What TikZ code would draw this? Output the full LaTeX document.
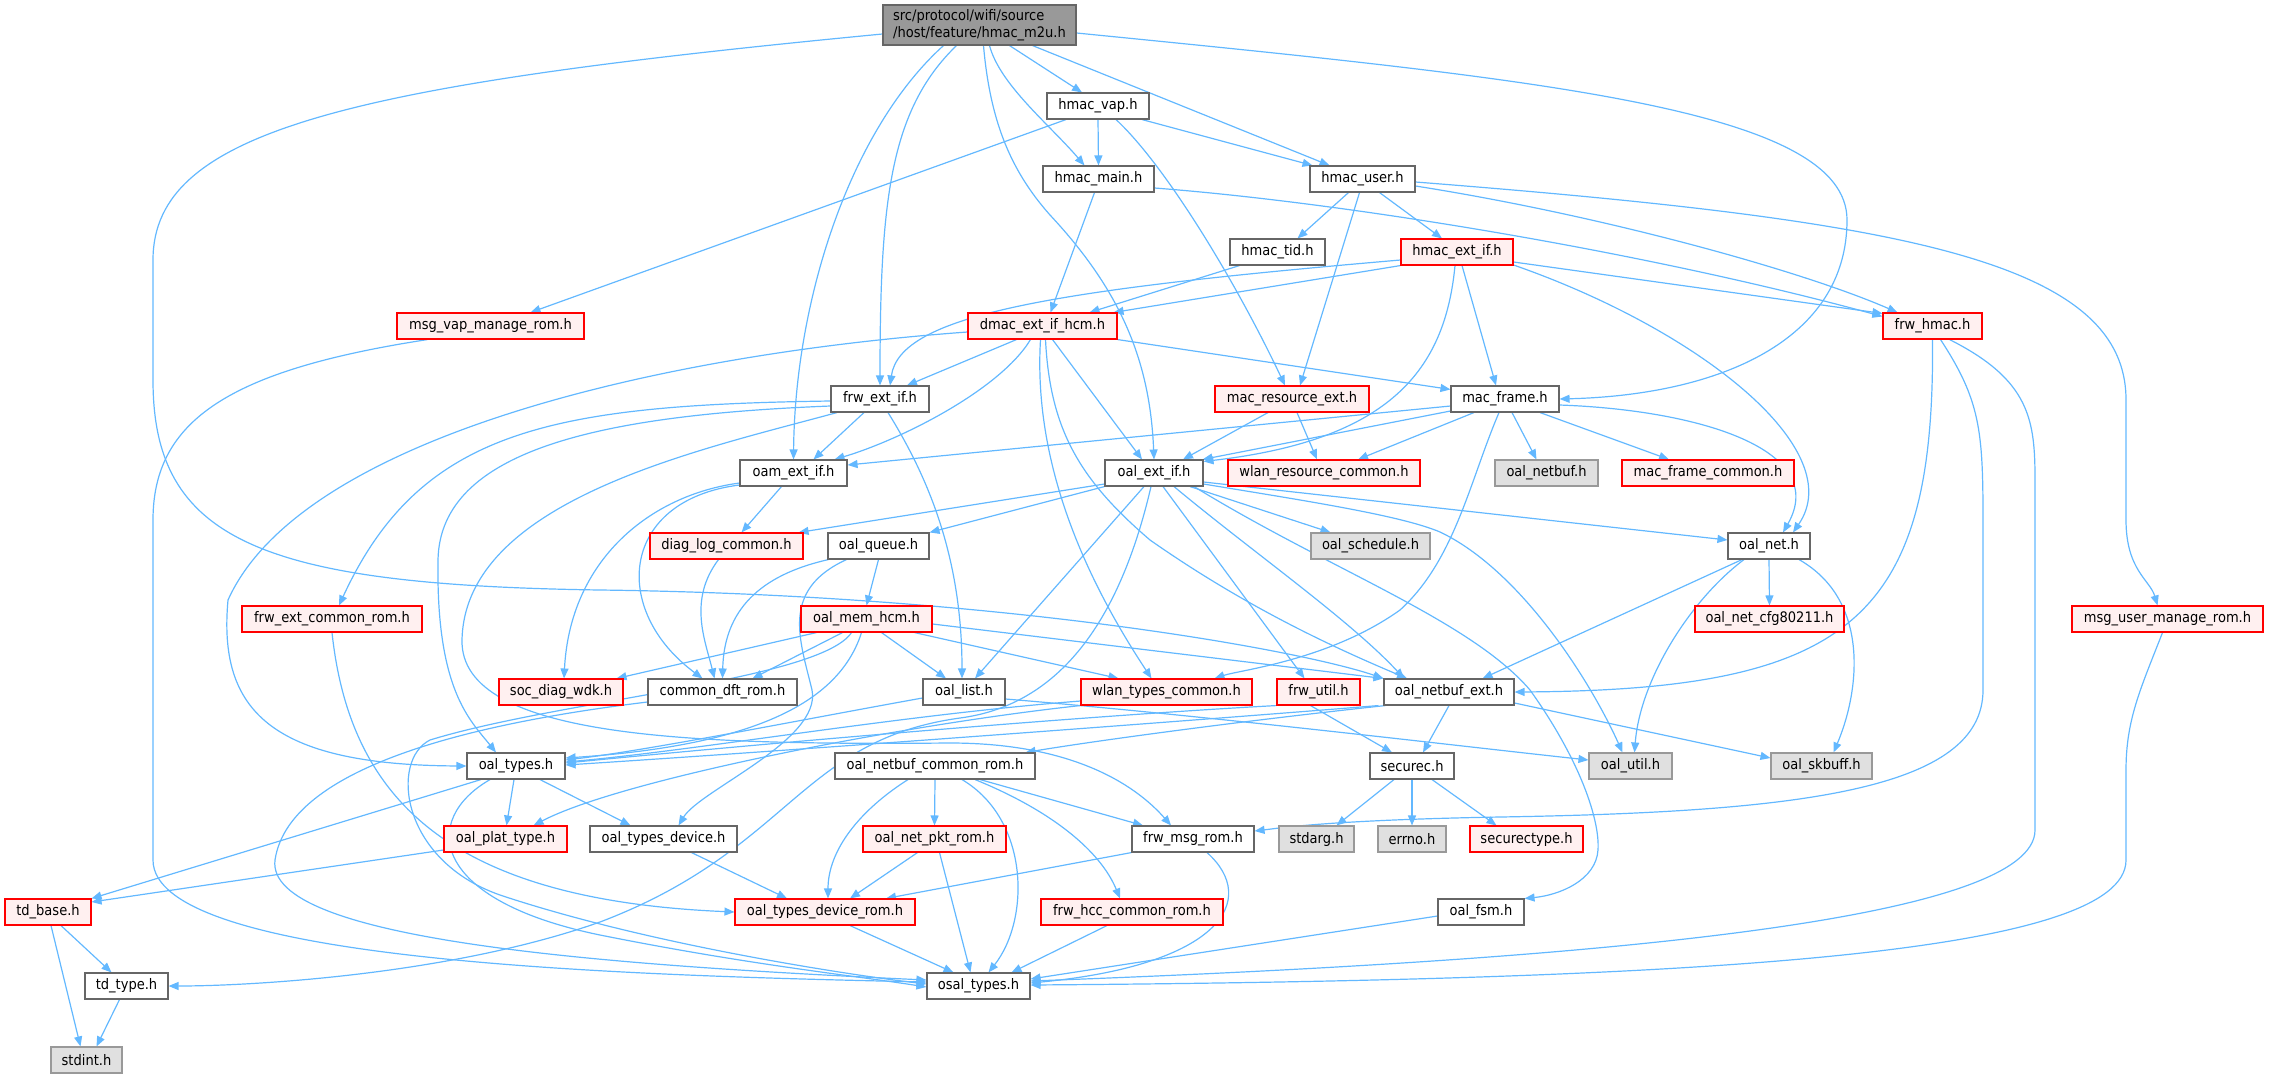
\documentclass[tikz,border=0pt]{standalone}
\usepackage{fontspec}
\setmainfont{DejaVu Sans Condensed}
\usetikzlibrary{arrows.meta}
\definecolor{edgeblue}{HTML}{63B8FF}
\definecolor{bordergray}{HTML}{666666}
\definecolor{mainfill}{HTML}{999999}
\definecolor{redfill}{HTML}{FFF0F0}
\definecolor{redborder}{HTML}{FF0000}
\definecolor{grayfill}{HTML}{E0E0E0}
\definecolor{grayborder}{HTML}{999999}
\newcommand{\nodefont}{\fontsize{14.5pt}{17pt}\selectfont}
\newcommand{\nd}[6]{\node[#5, minimum width=#4pt] (#1) at (#2,#3) {#6};}
\pgfdeclarelayer{bg}
\pgfsetlayers{bg,main}
\tikzset{
  nwhite/.style={draw=bordergray, fill=white, line width=1.1pt, minimum height=26pt, inner sep=0pt, font=\nodefont, text=black},
  nred/.style={nwhite, draw=redborder, fill=redfill},
  ngray/.style={nwhite, draw=grayborder, fill=grayfill},
  nmain/.style={nwhite, fill=mainfill, minimum height=40pt, align=left},
  dep/.style={draw=edgeblue, line width=1.2pt, -{Triangle[length=10pt,width=8pt]}, fill=none}
}
\begin{document}
\begin{tikzpicture}[x=1pt,y=-1pt]
\useasboundingbox (0,0) rectangle (2269,1077);
\nd{main}{979.5}{25}{193}{nmain}{src/protocol/wifi/source\\/host/feature/hmac\_m2u.h}
\nd{vap}{1098}{106}{102}{nwhite}{hmac\_vap.h}
\nd{hmain}{1098.5}{179}{111}{nwhite}{hmac\_main.h}
\nd{huser}{1362.5}{179}{105}{nwhite}{hmac\_user.h}
\nd{htid}{1277.5}{252}{95}{nwhite}{hmac\_tid.h}
\nd{hext}{1457}{252}{112}{nred}{hmac\_ext\_if.h}
\nd{msgvap}{490.5}{326}{187}{nred}{msg\_vap\_manage\_rom.h}
\nd{dmac}{1042.5}{326}{149}{nred}{dmac\_ext\_if\_hcm.h}
\nd{frwhmac}{1932.5}{326}{99}{nred}{frw\_hmac.h}
\nd{frwext}{880}{399}{98}{nwhite}{frw\_ext\_if.h}
\nd{macres}{1292}{399}{154}{nred}{mac\_resource\_ext.h}
\nd{macframe}{1505}{399}{108}{nwhite}{mac\_frame.h}
\nd{oam}{793.5}{473}{107}{nwhite}{oam\_ext\_if.h}
\nd{oalext}{1154}{473}{98}{nwhite}{oal\_ext\_if.h}
\nd{wlanres}{1324}{473}{192}{nred}{wlan\_resource\_common.h}
\nd{oalnetbuf}{1546.5}{473}{103}{ngray}{oal\_netbuf.h}
\nd{macfc}{1708}{473}{172}{nred}{mac\_frame\_common.h}
\nd{diag}{726.5}{546}{153}{nred}{diag\_log\_common.h}
\nd{oalqueue}{878.5}{546}{101}{nwhite}{oal\_queue.h}
\nd{oalsched}{1370.5}{546}{119}{ngray}{oal\_schedule.h}
\nd{oalnet}{1769}{546}{82}{nwhite}{oal\_net.h}
\nd{frwecr}{332}{619}{180}{nred}{frw\_ext\_common\_rom.h}
\nd{oalmem}{866.5}{619}{131}{nred}{oal\_mem\_hcm.h}
\nd{cfg}{1769.5}{619}{149}{nred}{oal\_net\_cfg80211.h}
\nd{msguser}{2167.5}{619}{191}{nred}{msg\_user\_manage\_rom.h}
\nd{socdiag}{561}{692}{124}{nred}{soc\_diag\_wdk.h}
\nd{dft}{722.5}{692}{149}{nwhite}{common\_dft\_rom.h}
\nd{oallist}{964}{692}{82}{nwhite}{oal\_list.h}
\nd{wlantypes}{1166.5}{692}{171}{nred}{wlan\_types\_common.h}
\nd{frwutil}{1318.5}{692}{83}{nred}{frw\_util.h}
\nd{netbufext}{1449}{692}{130}{nwhite}{oal\_netbuf\_ext.h}
\nd{oaltypes}{516}{766}{98}{nwhite}{oal\_types.h}
\nd{nbcr}{935}{766}{200}{nwhite}{oal\_netbuf\_common\_rom.h}
\nd{securec}{1412}{766}{84}{nwhite}{securec.h}
\nd{oalutil}{1630.5}{766}{83}{ngray}{oal\_util.h}
\nd{skbuff}{1821.5}{766}{101}{ngray}{oal\_skbuff.h}
\nd{plat}{505.5}{839}{123}{nred}{oal\_plat\_type.h}
\nd{tdev}{663.5}{839}{147}{nwhite}{oal\_types\_device.h}
\nd{pkt}{934.5}{839}{143}{nred}{oal\_net\_pkt\_rom.h}
\nd{msgrom}{1193}{839}{122}{nwhite}{frw\_msg\_rom.h}
\nd{stdarg}{1316.5}{839}{75}{ngray}{stdarg.h}
\nd{errno}{1412}{839}{68}{ngray}{errno.h}
\nd{sectype}{1526.5}{839}{113}{nred}{securectype.h}
\nd{tdbase}{48}{912}{86}{nred}{td\_base.h}
\nd{tdevrom}{825}{912}{180}{nred}{oal\_types\_device\_rom.h}
\nd{hcc}{1132}{912}{182}{nred}{frw\_hcc\_common\_rom.h}
\nd{oalfsm}{1481}{912}{86}{nwhite}{oal\_fsm.h}
\nd{tdtype}{126.5}{986}{83}{nwhite}{td\_type.h}
\nd{osal}{978.5}{986}{103}{nwhite}{osal\_types.h}
\nd{stdint}{86.5}{1060}{71}{ngray}{stdint.h}

\begin{pgfonlayer}{bg}
% main
\draw[dep] ([xshift=30pt]main.south) -- ([xshift=-16pt]vap.north);
\draw[dep] ([xshift=10pt]main.south) .. controls (1000,85) and (1050,125) .. ([xshift=-14pt]hmain.north);
\draw[dep] ([xshift=53pt]main.south) -- ([xshift=-33pt]huser.north);
\draw[dep] ([xshift=-23pt]main.south) .. controls (890,110) and (880,200) .. (frwext.north);
\draw[dep] ([xshift=-36pt]main.south) .. controls (850,130) and (795,300) .. (oam.north);
\draw[dep] ([xshift=4pt]main.south) .. controls (990,120) and (1010,170) .. (1050,215) .. controls (1120,290) and (1150,360) .. (oalext.north);
\draw[dep] ([yshift=-8pt]main.east) .. controls (1550,80) and (1847,110) .. (1847,220) .. controls (1847,340) and (1720,395) .. (macframe.east);
\draw[dep] ([yshift=-9pt]main.west) .. controls (350,85) and (153,130) .. (153,260) -- (153,380) .. controls (153,540) and (260,585) .. (600,590) .. controls (1000,595) and (1300,650) .. (netbufext.north west);
% hmac_vap
\draw[dep] (vap.south) -- (hmain.north);
\draw[dep] ([xshift=44pt]vap.south) -- ([xshift=-50pt]huser.north);
\draw[dep] ([xshift=-32pt]vap.south) -- ([xshift=40pt]msgvap.north);
\draw[dep] ([xshift=18pt]vap.south) .. controls (1165,165) and (1235,280) .. ([xshift=-7pt]macres.north);
% hmac_main
\draw[dep] ([xshift=-4pt]hmain.south) -- ([xshift=8pt]dmac.north);
\draw[dep] ([yshift=-9pt]hmain.east) .. controls (1350,203) and (1650,253) .. ([yshift=-4pt]frwhmac.north west);
% hmac_user
\draw[dep] ([xshift=-14pt]huser.south) -- ([xshift=20pt]htid.north);
\draw[dep] ([xshift=-3pt]huser.south) -- ([xshift=8pt]macres.north);
\draw[dep] ([xshift=17pt]huser.south) -- ([xshift=-15pt]hext.north);
\draw[dep] ([yshift=-7pt]huser.east) .. controls (1600,215) and (1800,270) .. ([xshift=-35pt]frwhmac.north);
\draw[dep] ([yshift=-3pt]huser.east) .. controls (1900,220) and (2126,260) .. (2126,400) -- (2126,520) .. controls (2126,570) and (2150,580) .. ([xshift=-10pt]msguser.north);
% hmac_tid
\draw[dep] ([xshift=-38pt]htid.south) -- ([xshift=47pt]dmac.north);
% hmac_ext_if
\draw[dep] (hext.south west) -- ([xshift=-4pt]dmac.north east);
\draw[dep] ([yshift=-8pt]hext.west) .. controls (1050,290) and (900,315) .. ([xshift=10pt]frwext.north);
\draw[dep] ([xshift=-2pt]hext.south) .. controls (1445,370) and (1390,440) .. ([yshift=-2pt]oalext.north east);
\draw[dep] ([xshift=5pt]hext.south) -- ([xshift=-9pt]macframe.north);
\draw[dep] ([yshift=-10pt]hext.east) -- ([yshift=-1pt]frwhmac.north west);
\draw[dep] ([yshift=-13pt]hext.east) .. controls (1700,330) and (1850,450) .. ([xshift=24pt]oalnet.north);
% msg_vap_manage_rom
\draw[dep] ([xshift=-63pt]msgvap.south) .. controls (230,370) and (153,420) .. (153,520) -- (153,860) .. controls (153,960) and (600,975) .. ([yshift=4pt]osal.west);
% frw_hmac
\draw[dep] (frwhmac.south) .. controls (1935,620) and (1850,690) .. (netbufext.east);
\draw[dep] ([xshift=8pt]frwhmac.south) .. controls (1980,400) and (1983,430) .. (1983,520) -- (1983,690) .. controls (1983,790) and (1800,812) .. (1500,817) .. controls (1330,820) and (1280,828) .. ([yshift=8pt]msgrom.east);
\draw[dep] ([xshift=17pt]frwhmac.south) .. controls (2030,380) and (2035,420) .. (2035,480) -- (2035,830) .. controls (2035,920) and (1600,960) .. ([yshift=5pt]osal.east);
% msg_user_manage_rom
\draw[dep] ([xshift=-5pt]msguser.south) .. controls (2140,690) and (2126,720) .. (2126,770) -- (2126,860) .. controls (2126,955) and (1700,980) .. ([yshift=1pt]osal.east);
% dmac_ext_if_hcm
\draw[dep] ([xshift=-26pt]dmac.south) -- ([xshift=27pt]frwext.north);
\draw[dep] ([xshift=-12pt]dmac.south) .. controls (1000,390) and (900,440) .. ([xshift=41pt]oam.north);
\draw[dep] ([xshift=10pt]dmac.south) -- ([xshift=-12pt]oalext.north);
\draw[dep] (dmac.south east) -- ([yshift=-4pt]macframe.north west);
\draw[dep] ([yshift=-6pt]dmac.west) .. controls (650,355) and (300,440) .. (228,600) .. controls (218,710) and (270,765) .. (oaltypes.west);
\draw[dep] ([xshift=-2pt]dmac.south) .. controls (1035,430) and (1060,540) .. ([xshift=-15pt]wlantypes.north);
\draw[dep] ([xshift=3pt]dmac.south) .. controls (1050,430) and (1080,480) .. (1150,540) .. controls (1250,610) and (1340,650) .. ([xshift=-42pt]netbufext.north);
% frw_ext_if
\draw[dep] ([xshift=-16pt]frwext.south) -- ([xshift=20pt]oam.north);
\draw[dep] ([xshift=8pt]frwext.south) .. controls (930,480) and (962,560) .. ([xshift=-2pt]oallist.north);
\draw[dep] ([yshift=-2pt]frwext.west) .. controls (550,405) and (420,430) .. ([xshift=7pt]frwecr.north);
\draw[dep] ([yshift=-7pt]frwext.west) .. controls (600,415) and (440,450) .. (438,560) .. controls (436,690) and (470,720) .. ([xshift=-20pt]oaltypes.north);
\draw[dep] ([xshift=-43pt]frwext.south) .. controls (700,450) and (465,500) .. (462,640) .. controls (460,740) and (700,745) .. (950,743) .. controls (1080,743) and (1140,790) .. ([xshift=-22pt]msgrom.north);
% mac_resource_ext
\draw[dep] ([xshift=-24pt]macres.south) -- ([xshift=29pt]oalext.north);
\draw[dep] ([xshift=5pt]macres.south) -- ([xshift=-7pt]wlanres.north);
% mac_frame
\draw[dep] ([yshift=-7pt]macframe.west) -- ([yshift=8pt]oam.east);
\draw[dep] ([yshift=-12pt]macframe.west) -- ([xshift=-1pt]oalext.north east);
\draw[dep] ([xshift=-31pt]macframe.south) -- ([xshift=34pt]wlanres.north);
\draw[dep] ([xshift=7pt]macframe.south) -- ([xshift=-10pt]oalnetbuf.north);
\draw[dep] ([xshift=35pt]macframe.south) -- ([xshift=-39pt]macfc.north);
\draw[dep] ([yshift=-6pt]macframe.east) .. controls (1700,410) and (1830,450) .. ([xshift=14pt]oalnet.north);
\draw[dep] ([xshift=-6pt]macframe.south) .. controls (1470,480) and (1455,560) .. (1400,610) .. controls (1330,660) and (1240,670) .. ([xshift=48pt]wlantypes.north);
% oam_ext_if
\draw[dep] ([xshift=-12pt]oam.south) -- ([xshift=15pt]diag.north);
\draw[dep] ([yshift=-10pt]oam.west) .. controls (650,495) and (570,560) .. ([xshift=3pt]socdiag.north);
\draw[dep] ([yshift=-12pt]oam.west) .. controls (620,500) and (610,610) .. ([xshift=-20pt]dft.north);
% oal_ext_if
\draw[dep] ([yshift=-11pt]oalext.west) -- ([xshift=-5pt]diag.north east);
\draw[dep] (oalext.south west) -- (oalqueue.north east);
\draw[dep] ([xshift=-10pt]oalext.south) -- ([xshift=11pt]oallist.north);
\draw[dep] ([xshift=-3pt]oalext.south) .. controls (1120,620) and (1060,705) .. (960,718) .. controls (800,740) and (790,850) .. (600,922) .. controls (450,975) and (250,986) .. (tdtype.east);
\draw[dep] ([xshift=9pt]oalext.south) -- ([xshift=-14pt]frwutil.north);
\draw[dep] ([xshift=20pt]oalext.south) .. controls (1250,550) and (1350,620) .. ([xshift=-45pt]netbufext.north);
\draw[dep] ([xshift=36pt]oalext.south) -- ([xshift=-40pt]oalsched.north);
\draw[dep] ([yshift=-9pt]oalext.east) -- ([yshift=6pt]oalnet.west);
\draw[dep] ([yshift=-11pt]oalext.east) .. controls (1300,500) and (1400,515) .. (1440,532) .. controls (1520,570) and (1590,680) .. ([xshift=-8pt]oalutil.north);
\draw[dep] ([xshift=40pt]oalext.south) .. controls (1330,570) and (1470,620) .. (1530,690) .. controls (1580,760) and (1600,820) .. (1598,850) .. controls (1596,880) and (1560,895) .. (oalfsm.north east);
% oal_queue
\draw[dep] (oalqueue.south) -- (oalmem.north);
\draw[dep] ([xshift=-50pt]oalqueue.south) .. controls (760,575) and (724,610) .. (dft.north);
\draw[dep] ([xshift=-32pt]oalqueue.south) .. controls (780,590) and (800,640) .. (812,690) .. controls (822,740) and (700,790) .. ([xshift=15pt]tdev.north);
% diag_log_common
\draw[dep] ([xshift=-8pt]diag.south) .. controls (688,600) and (705,640) .. ([xshift=-8pt]dft.north);
% oal_mem_hcm
\draw[dep] ([xshift=-50pt]oalmem.south) -- ([xshift=-7pt]socdiag.north east);
\draw[dep] ([xshift=-24pt]oalmem.south) -- ([xshift=30pt]dft.north);
\draw[dep] ([xshift=15pt]oalmem.south) -- ([xshift=-18pt]oallist.north);
\draw[dep] ([xshift=48pt]oalmem.south) -- ([xshift=-48pt]wlantypes.north);
\draw[dep] ([yshift=-5pt]oalmem.east) -- (netbufext.north west);
\draw[dep] ([xshift=-5pt]oalmem.south) .. controls (840,700) and (760,745) .. ([yshift=8pt]oaltypes.east);
\draw[dep] ([xshift=-15pt]oalmem.south) .. controls (820,680) and (560,700) .. (430,740) .. controls (390,760) and (400,860) .. (500,895) .. controls (650,945) and (850,975) .. ([yshift=2pt]osal.west);
% common_dft_rom
\draw[dep] ([yshift=-10pt]dft.west) .. controls (500,720) and (290,760) .. (275,860) .. controls (265,940) and (600,965) .. ([yshift=6pt]osal.west);
% oal_list
\draw[dep] ([yshift=-6pt]oallist.west) .. controls (800,720) and (650,750) .. ([yshift=6pt]oaltypes.east);
\draw[dep] ([yshift=-7pt]oallist.east) .. controls (1200,715) and (1450,745) .. ([yshift=6pt]oalutil.west);
% wlan_types_common
\draw[dep] ([yshift=-9pt]wlantypes.west) .. controls (900,715) and (700,750) .. ([yshift=4pt]oaltypes.east);
\draw[dep] (wlantypes.south west) .. controls (900,725) and (620,780) .. ([xshift=28pt]plat.north);
% frw_util
\draw[dep] (frwutil.south west) .. controls (1100,715) and (800,740) .. ([yshift=3pt]oaltypes.east);
\draw[dep] ([xshift=-8pt]frwutil.south) -- ([xshift=-20pt]securec.north);
% oal_netbuf_ext
\draw[dep] ([xshift=-5pt]netbufext.south west) .. controls (1200,720) and (800,750) .. ([yshift=1pt]oaltypes.east);
\draw[dep] (netbufext.south) -- ([xshift=11pt]securec.north);
\draw[dep] ([xshift=2pt]netbufext.south west) .. controls (1250,720) and (1100,740) .. ([xshift=-10pt]nbcr.north east);
\draw[dep] ([yshift=-11pt]netbufext.east) -- ([yshift=8pt]skbuff.west);
% oal_net
\draw[dep] (oalnet.south) -- (cfg.north);
\draw[dep] ([xshift=-25pt]oalnet.south) .. controls (1690,600) and (1640,680) .. ([xshift=4pt]oalutil.north);
\draw[dep] ([xshift=30pt]oalnet.south) .. controls (1870,600) and (1860,690) .. ([xshift=12pt]skbuff.north);
\draw[dep] ([xshift=-27pt]oalnet.south) -- ([xshift=-32pt]netbufext.north east);
% oal_types
\draw[dep] ([xshift=-35pt]oaltypes.south) -- (tdbase.north east);
\draw[dep] ([xshift=-2pt]oaltypes.south) -- ([xshift=1pt]plat.north);
\draw[dep] ([xshift=24pt]oaltypes.south) -- ([xshift=-33pt]tdev.north);
\draw[dep] ([xshift=-26pt]oaltypes.south) .. controls (420,820) and (430,900) .. (600,935) .. controls (750,965) and (850,975) .. ([yshift=-1pt]osal.west);
% frw_ext_common_rom
\draw[dep] (frwecr.south) .. controls (350,800) and (450,900) .. (tdevrom.west);
% oal_types_device
\draw[dep] ([xshift=28pt]tdev.south) -- ([xshift=-38pt]tdevrom.north);
% oal_netbuf_common_rom
\draw[dep] ([xshift=-27pt]nbcr.south) .. controls (860,810) and (828,850) .. ([xshift=3pt]tdevrom.north);
\draw[dep] (nbcr.south) -- (pkt.north);
\draw[dep] ([xshift=27pt]nbcr.south) .. controls (1030,820) and (1030,920) .. ([xshift=10pt]osal.north);
\draw[dep] ([xshift=40pt]nbcr.south) .. controls (1050,810) and (1100,850) .. ([xshift=-12pt]hcc.north);
\draw[dep] ([xshift=45pt]nbcr.south) -- ([xshift=-50pt]msgrom.north);
% oal_net_pkt_rom
\draw[dep] ([xshift=-17pt]pkt.south) -- ([xshift=25pt]tdevrom.north);
\draw[dep] ([xshift=5pt]pkt.south) -- ([xshift=-8pt]osal.north);
% frw_msg_rom
\draw[dep] (msgrom.south west) -- ([xshift=61pt]tdevrom.north);
\draw[dep] ([xshift=14pt]msgrom.south) .. controls (1260,900) and (1220,965) .. ([yshift=3pt]osal.east);
% rom leaves
\draw[dep] ([xshift=25pt]tdevrom.south) -- ([xshift=-25pt]osal.north);
\draw[dep] ([xshift=-25pt]hcc.south) -- ([xshift=33pt]osal.north);
\draw[dep] ([yshift=-4pt]oalfsm.west) -- ([yshift=7pt]osal.east);
% td
\draw[dep] ([yshift=-11pt]plat.west) -- ([yshift=10pt]tdbase.east);
\draw[dep] ([xshift=13pt]tdbase.south) -- ([xshift=-15pt]tdtype.north);
\draw[dep] ([xshift=3pt]tdbase.south) -- ([xshift=-6pt]stdint.north);
\draw[dep] ([xshift=-7pt]tdtype.south) -- ([xshift=10pt]stdint.north);
% securec
\draw[dep] ([xshift=-18pt]securec.south) -- ([xshift=20pt]stdarg.north);
\draw[dep] (securec.south) -- (errno.north);
\draw[dep] ([xshift=20pt]securec.south) -- ([xshift=-30pt]sectype.north);
\end{pgfonlayer}
\end{tikzpicture}
\end{document}
